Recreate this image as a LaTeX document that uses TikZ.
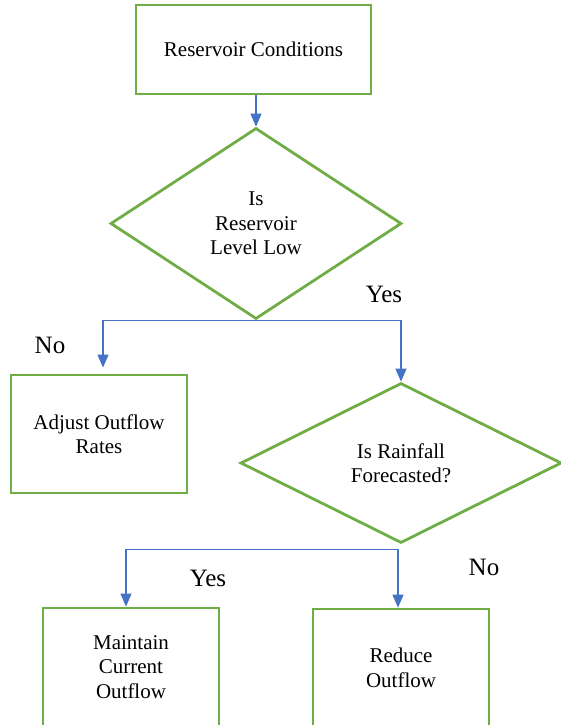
\documentclass[tikz,border=0pt]{standalone}
\usepackage{fontspec}
\setmainfont{Liberation Serif}
\usepackage{xcolor}
\usepackage{tikz}
\usetikzlibrary{arrows.meta}
\usetikzlibrary{shapes.geometric}
\definecolor{boxgreen}{HTML}{70AD47}
\definecolor{lineblue}{HTML}{4472C4}
\tikzset{>={Triangle[width=11pt, length=13pt]}}
\tikzstyle{box} = [rectangle, draw=boxgreen, line width=2.8pt, align=center, inner sep=0pt, font=\fontsize{21}{24.5}\selectfont, minimum width=176pt, minimum height=118pt]
\tikzstyle{decision} = [diamond, draw=boxgreen, line width=2.8pt, align=center, inner sep=0pt, font=\fontsize{21}{24.5}\selectfont]
\tikzstyle{flow} = [->, draw=lineblue, line width=1.2pt]
\tikzstyle{answer} = [font=\fontsize{25}{28}\selectfont]

\begin{document}
\begin{tikzpicture}[x=1pt, y=-1pt]
\useasboundingbox (0, 0) rectangle (561, 725);
\node [box, minimum width=235pt, minimum height=89pt] (RC) at (253.5, 49.5) {Reservoir Conditions};
\node [decision, minimum width=291pt, minimum height=191pt] (RL) at (256, 223.5) {Is\\Reservoir\\Level Low};
\node [box] (AO) at (99, 434) {Adjust Outflow\\Rates};
\node [decision, minimum width=321pt, minimum height=160pt] (RF) at (401, 463) {Is Rainfall\\Forecasted?};
\node [box] (MC) at (131, 667) {Maintain\\Current\\Outflow};
\node [box] (RO) at (401, 668) {Reduce\\Outflow};
\draw [flow] (RC.south -| RL.north) -- (RL.north);
\draw [flow, shorten >=6pt] (RL.south) -| ([xshift=4pt]AO.north);
\draw [flow] (RL.south) -| (RF.north);
\draw [flow] ([xshift=-3pt, yshift=-5pt]RF.south) -| ([xshift=-5pt]MC.north);
\draw [flow] ([xshift=-3pt, yshift=-5pt]RF.south) -- ([xshift=-3pt]RO.north);
\node [answer] (Y1) at (384, 294) {Yes};
\node [answer] (N1) at (50, 345) {No};
\node [answer] (Y2) at (208, 578) {Yes};
\node [answer] (N2) at (484, 567) {No};
\end{tikzpicture}
\end{document}
